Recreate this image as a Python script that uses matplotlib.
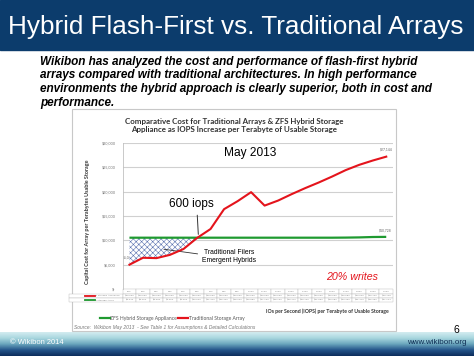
import numpy as np
import matplotlib.pyplot as plt
from matplotlib.patches import Rectangle
from matplotlib.lines import Line2D
from matplotlib.colors import LinearSegmentedColormap

# ---- data ----
iops = [100, 200, 300, 400, 500, 600, 700, 800, 900, 1000,
        1100, 1200, 1300, 1400, 1500, 1600, 1700, 1800, 1900, 2000]
hybrid_cost = [10560, 10560, 10560, 10560, 10560, 10560, 10560, 10560, 10560, 10560,
               10560, 10560, 10560, 10560, 10560, 10560, 10580, 10620, 10700, 10728]
traditional_cost = [5040, 6450, 6380, 7050, 8250, 10500, 12340, 16400, 18030, 19880,
                    17130, 18160, 19470, 20700, 21850, 23080, 24390, 25470, 26350, 27144]
y_ticks = [0, 5000, 10000, 15000, 20000, 25000, 30000]
series_names = ['ZFS Hybrid Storage Appliance', 'Traditional Storage Array']

GREEN = '#1f9a30'
RED = '#e4141c'
W, H = 474, 356

plt.rcParams['hatch.linewidth'] = 0.4
plt.rcParams['hatch.color'] = '#5a72b0'

fig = plt.figure(figsize=(W / 100, H / 100), dpi=100)
fig.patch.set_facecolor('white')

# slide background in pixel coordinates
bg = fig.add_axes([0, 0, 1, 1])
bg.set_xlim(0, W)
bg.set_ylim(H, 0)
bg.axis('off')

bg.add_patch(Rectangle((0, 0), W, 50, color='#0c3c6c', zorder=0))
bg.text(W / 2 - 1, 27, 'Hybrid Flash-First vs. Traditional Arrays', color='white',
        fontsize=18.8, family='Liberation Sans', ha='center', va='center')

body = ('Wikibon has analyzed the cost and performance of flash-first hybrid\n'
        'arrays compared with traditional architectures. In high performance\n'
        'environments the hybrid approach is clearly superior, both in cost and\n'
        'performance.')
bg.text(40, 55.5, body, fontsize=8.5, family='Liberation Sans', weight='bold',
        style='italic', ha='left', va='top', linespacing=1.22)

# chart frame
bg.add_patch(Rectangle((72.5, 109), 324, 222, facecolor='white',
                       edgecolor='#c8c8c8', lw=0.8, zorder=1))
bg.text(234, 125.5, 'Comparative Cost for Traditional Arrays & ZFS Hybrid Storage\n'
        'Appliance as IOPS Increase per Terabyte of Usable Storage',
        fontsize=5.65, family='Lato', weight='bold', color='#333333',
        ha='center', va='center', linespacing=1.25, zorder=2)
bg.text(88, 222, 'Capital Cost for Array per Terabytes Usable Storage', rotation=90,
        fontsize=3.9, family='Lato', weight='bold', color='#333333',
        ha='center', va='center', zorder=2)
bg.text(389, 311.5, 'IOs per Second (IOPS) per Terabyte of Usable Storage',
        fontsize=3.7, family='Lato', weight='bold', color='#333333',
        ha='right', va='center', zorder=2)
bg.text(74, 327.5, 'Source:  Wikibon May 2013  - See Table 1 for Assumptions & Detailed Calculations',
        fontsize=3.55, family='Liberation Sans', style='italic', color='#777777',
        ha='left', va='center', zorder=2)

# footer gradient band
band = LinearSegmentedColormap.from_list(
    'band', ['#d3ecf0', '#a8d6de', '#6aa6bd', '#24558a', '#0c2d5c'])
grad = np.linspace(0, 1, 64).reshape(-1, 1)
bg.imshow(grad, cmap=band, extent=(0, W, 356, 332), aspect='auto', zorder=0)
bg.set_xlim(0, W)
bg.set_ylim(H, 0)
bg.text(10, 342.5, '\u00a9 Wikibon 2014', color='white', fontsize=5.4,
        family='Liberation Sans', ha='left', va='center')
bg.text(466.5, 342.5, 'www.wikibon.org', color='#102f55', fontsize=5.8,
        family='Liberation Sans', ha='right', va='center')
bg.text(456, 330, '6', color='black', fontsize=7.5, family='Liberation Sans',
        ha='center', va='center', zorder=3)

# ---- chart ----
ax = fig.add_axes([122.7 / W, (H - 289.3) / H, 270.3 / W, 146.6 / H])
ax.set_zorder(3)
ax.patch.set_alpha(0)
x = np.arange(len(iops))
hyb = np.array(hybrid_cost)
trad = np.array(traditional_cost)

ax.set_xlim(-0.5, len(iops) - 0.5)
ax.set_ylim(0, 30000)
ax.set_yticks(y_ticks)
ax.set_yticklabels(['$-' if v == 0 else f'${v:,}' for v in y_ticks],
                   fontsize=2.7, color='#777777', family='Lato')
ax.tick_params(axis='y', length=0, pad=5)
ax.set_xticks([])
ax.grid(axis='y', color='#d0d0d0', lw=0.8)
ax.set_axisbelow(True)
for s in ['top', 'right', 'bottom']:
    ax.spines[s].set_visible(False)
ax.spines['left'].set_color('#c0c0c0')
ax.spines['left'].set_linewidth(0.6)

ax.fill_between(x, trad, hyb, where=trad < hyb, interpolate=True,
                facecolor='white', edgecolor='#5a72b0', hatch='xxxxxx',
                linewidth=0, zorder=3)
ax.plot(x, hyb, color=GREEN, lw=1.6, zorder=4, solid_capstyle='butt')
ax.plot(x, trad, color=RED, lw=1.5, zorder=5, solid_joinstyle='round')

ax.annotate(f'${trad[-1]:,}', (x[-1], trad[-1]), xytext=(0, 4), textcoords='offset points',
            fontsize=2.4, color='#666666', ha='center', va='bottom', family='Lato')
ax.annotate(f'${hyb[-1]:,}', (x[-1], hyb[-1]), xytext=(-1, 3), textcoords='offset points',
            fontsize=2.4, color='#666666', ha='center', va='bottom', family='Lato')
ax.annotate(f'${trad[0]:,}', (x[0], trad[0]), xytext=(-1, 4), textcoords='offset points',
            fontsize=2.4, color='#666666', ha='center', va='bottom', family='Lato', zorder=2)

ax.text(8.92, 27830, 'May 2013', fontsize=8.6, family='Liberation Sans',
        ha='center', va='center')
ax.annotate('600 iops', xy=(5.1, hyb[5] + 400), xytext=(4.6, 17390),
            fontsize=8.5, family='Liberation Sans', ha='center', va='center',
            arrowprops=dict(arrowstyle='-', color='#333333', lw=0.7,
                            shrinkA=1.5, shrinkB=1, relpos=(0.62, 0)))
ax.annotate('Traditional Filers\nEmergent Hybrids', xy=(2.55, 8190), xytext=(7.35, 6750),
            fontsize=4.9, family='Liberation Sans', ha='center', va='center',
            multialignment='center', linespacing=1.3,
            arrowprops=dict(arrowstyle='-', color='#333333', lw=0.6,
                            shrinkA=1, shrinkB=0, relpos=(0, 0.62)))
ax.text(16.5, 2580, '20% writes', fontsize=7.7, family='Liberation Sans',
        style='italic', color=RED, ha='center', va='center')

# data table under the axis (row labels sit left of the bbox)
label_w = 0.15
tbl_h = 0.088
tbl = ax.table(cellText=[[f'${v:,}' for v in hybrid_cost],
                         [f'${v:,}' for v in traditional_cost]],
               rowLabels=['            ' + n for n in series_names],
               colLabels=[f'{v:,}' for v in iops],
               colWidths=[1 / len(iops)] * len(iops),
               cellLoc='center', rowLoc='left',
               bbox=[0, -tbl_h, 1, tbl_h])
tbl.auto_set_font_size(False)
tbl.set_fontsize(1.7)
for (r, c), cell in tbl.get_celld().items():
    cell.set_edgecolor('#b8b8b8')
    cell.set_linewidth(0.3)
    cell.get_text().set_color('#888888')
    if c == -1:
        cell.set_width(label_w)
for i, col in enumerate([GREEN, RED]):
    yy = -tbl_h * (2 - i) / 3 + tbl_h / 6 - tbl_h / 3
    ax.add_line(Line2D([-label_w + 0.012, -label_w + 0.048], [yy, yy],
                       transform=ax.transAxes, color=col, lw=1.3, clip_on=False))

handles = [Line2D([], [], color=GREEN, lw=1.6), Line2D([], [], color=RED, lw=1.6)]
leg = fig.legend(handles, series_names, loc='center', bbox_to_anchor=(172 / W, 1 - 318.3 / H),
                 ncol=2, frameon=False, handlelength=2.0,
                 handletextpad=0.1, columnspacing=0.3,
                 prop={'family': 'Lato', 'size': 3.6})
for t in leg.get_texts():
    t.set_color('#555555')

fig.savefig('out.png', dpi=100)
